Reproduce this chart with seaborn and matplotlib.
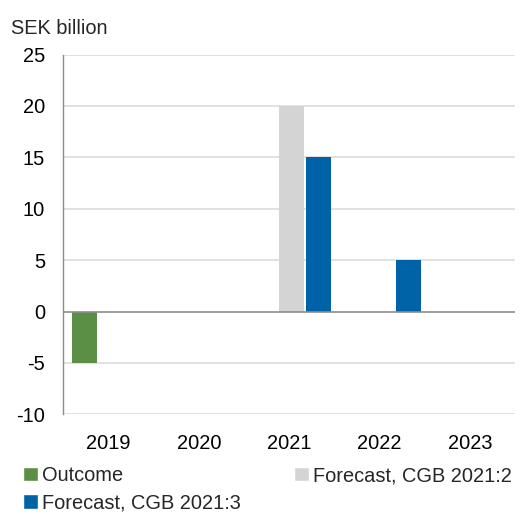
import matplotlib
matplotlib.use("Agg")
import matplotlib.pyplot as plt
import seaborn as sns
import pandas as pd
from matplotlib.patches import Patch

years = ["2019", "2020", "2021", "2022", "2023"]
series = ["Outcome", "Forecast, CGB 2021:2", "Forecast, CGB 2021:3"]
outcome = {"2019": -5}
forecast_2 = {"2021": 20}
forecast_3 = {"2021": 15, "2022": 5}
colors = ["#5b8f46", "#d4d4d4", "#0062a7"]
yticks = [-10, -5, 0, 5, 10, 15, 20, 25]

rows = []
for name, vals in zip(series, [outcome, forecast_2, forecast_3]):
    for y, v in vals.items():
        rows.append({"year": y, "series": name, "value": v})
df = pd.DataFrame(rows)

sns.set_theme(style="white")
plt.rcParams["font.family"] = ["Liberation Sans", "DejaVu Sans"]
FS = 14.4

fig = plt.figure(figsize=(5.29, 5.14), dpi=100)
ax = fig.add_axes([63.3 / 529, 1 - 414.3 / 514, (515 - 63.3) / 529, (414.3 - 54.5) / 514])

sns.barplot(data=df, x="year", y="value", hue="series", order=years,
            hue_order=series, palette=colors, width=0.887, gap=0.06,
            saturation=1, legend=False, ax=ax, zorder=3, linewidth=0)
# slight rightward shift of the bar groups, as in the original layout
for p in ax.patches:
    p.set_x(p.get_x() + 0.028)

ax.set_ylim(-10, 25)
ax.set_xlim(-0.5, 4.5)
ax.set_yticks(yticks)
ax.set_yticklabels([str(t) for t in yticks])
for t in yticks:
    if t != 0:
        ax.axhline(t, color="#dedede", lw=1.3, zorder=1)
ax.axhline(0, color="#8c8c8c", lw=1.2, zorder=4)

for s in ["top", "right", "bottom"]:
    ax.spines[s].set_visible(False)
ax.spines["left"].set_color("#8c8c8c")
ax.spines["left"].set_linewidth(1.0)
ax.tick_params(axis="both", length=0, labelsize=FS, colors="black")
ax.tick_params(axis="y", pad=13)
ax.tick_params(axis="x", pad=14)
ax.set_xlabel("")
ax.set_ylabel("")

fig.text(11 / 529, 1 - 28 / 514, "SEK billion", fontsize=FS, va="center", ha="left")

handles = [Patch(facecolor=colors[0]), Patch(facecolor=colors[2]), Patch(facecolor=colors[1])]
labels = [series[0], series[2], series[1]]
fig.legend(handles, labels, ncol=2, loc="upper left",
           bbox_to_anchor=(23 / 529, 1 - 466 / 514), frameon=False, fontsize=FS,
           handlelength=0.75, handleheight=0.75, handletextpad=0.2,
           columnspacing=2.65, labelspacing=0.42, borderpad=0, borderaxespad=0)

fig.savefig("out.png", dpi=100)
